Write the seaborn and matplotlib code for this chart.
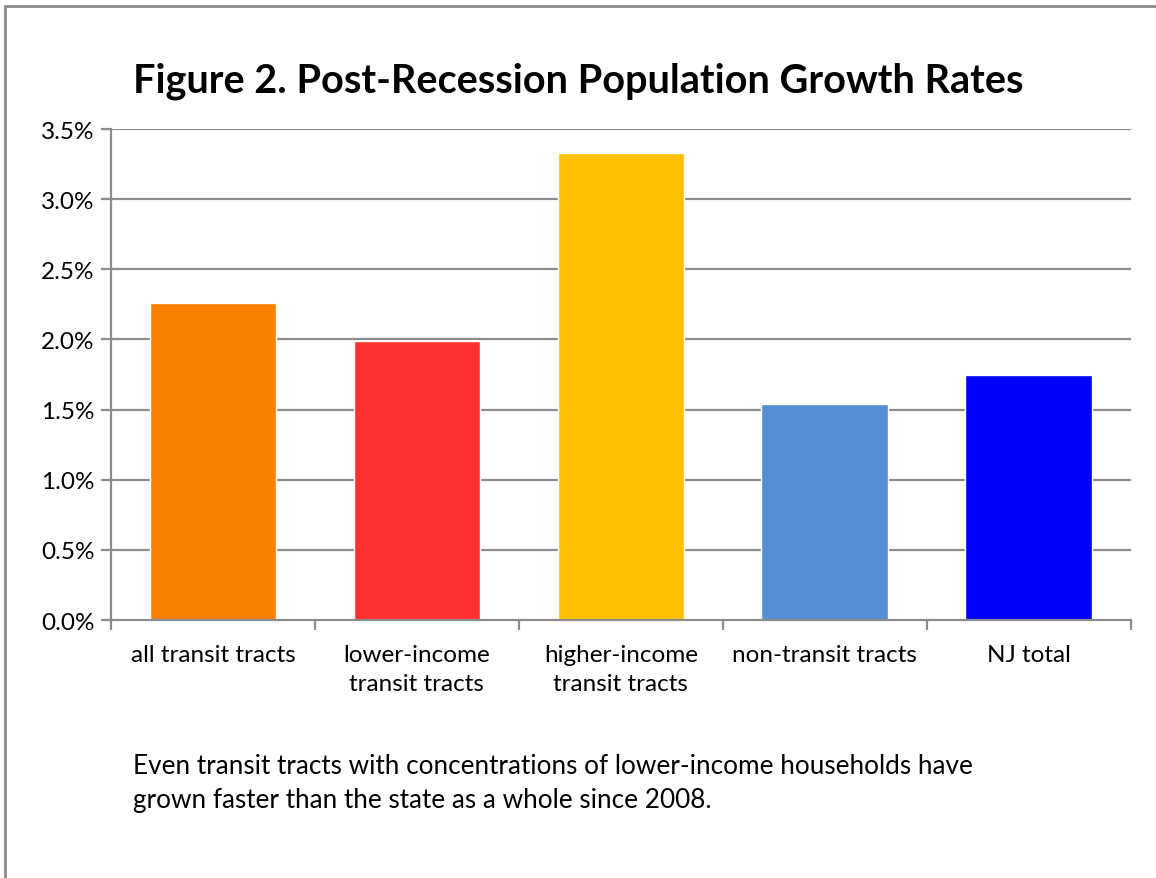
import matplotlib
matplotlib.use("Agg")
import matplotlib.pyplot as plt
import seaborn as sns
import pandas as pd
import numpy as np
from matplotlib.ticker import FuncFormatter, FixedLocator

categories = ["all transit tracts", "lower-income\ntransit tracts", "higher-income\ntransit tracts",
              "non-transit tracts", "NJ total"]
growth_pct = [2.26, 1.99, 3.33, 1.54, 1.75]
bar_colors = ["#F98000", "#FF3131", "#FFC000", "#558ED5", "#0000FF"]
yticks = [0.0, 0.5, 1.0, 1.5, 2.0, 2.5, 3.0, 3.5]

sns.set_theme(style="white")
plt.rcParams['font.family'] = ['Lato', 'DejaVu Sans']

df = pd.DataFrame({"cat": categories, "val": growth_pct})

fig = plt.figure(figsize=(11.56, 8.79), dpi=100)
ax = fig.add_axes([0.096, 0.2935, 0.882, 0.5585])

sns.barplot(data=df, x="cat", y="val", hue="cat", palette=bar_colors, legend=False,
            width=0.62, ax=ax, saturation=1, zorder=3)

ax.set_ylim(0, 3.5)
ax.set_xlim(-0.5, 4.5)
ax.set_yticks(yticks)
ax.yaxis.set_major_formatter(FuncFormatter(lambda v, p: f"{v:.1f}%"))
for y in yticks[1:]:
    ax.axhline(y, color="#8c8c8c", lw=1.6, zorder=1)

ax.set_xlabel("")
ax.set_ylabel("")
for s in ["top", "right"]:
    ax.spines[s].set_visible(False)
ax.spines["left"].set_color("#8c8c8c")
ax.spines["left"].set_linewidth(1.6)
ax.spines["bottom"].set_color("#8c8c8c")
ax.spines["bottom"].set_linewidth(1.6)
ax.spines["bottom"].set_zorder(4)

ax.tick_params(axis="y", which="major", length=7, width=1.6, color="#8c8c8c",
               labelsize=17.5, pad=5, left=True, direction="out")
ax.tick_params(axis="x", which="major", length=0, labelsize=17.5, pad=17)
ax.xaxis.set_minor_locator(FixedLocator(np.arange(-0.5, 5.0, 1.0)))
ax.tick_params(axis="x", which="minor", length=7, width=1.6, color="#8c8c8c",
               bottom=True, direction="out")
for lbl in ax.get_xticklabels():
    lbl.set_linespacing(1.5)
for lbl in ax.get_xticklabels() + ax.get_yticklabels():
    lbl.set_color("black")

fig.text(0.5, 0.908, "Figure 2. Post-Recession Population Growth Rates",
         ha="center", va="center", fontsize=28.5, fontweight="bold", color="black")

fig.text(0.115, 0.075, "Even transit tracts with concentrations of lower-income households have\n"
         "grown faster than the state as a whole since 2008.",
         ha="left", va="bottom", fontsize=18.8, color="black", linespacing=1.45)

# figure border (top and left visible)
fig.add_artist(plt.Line2D([0.004, 1.0], [0.9915, 0.9915], transform=fig.transFigure,
                          color="#8c8c8c", lw=2))
fig.add_artist(plt.Line2D([0.0045, 0.0045], [0.0, 0.9915], transform=fig.transFigure,
                          color="#8c8c8c", lw=2))

fig.savefig("out.png", dpi=100, facecolor="white")
